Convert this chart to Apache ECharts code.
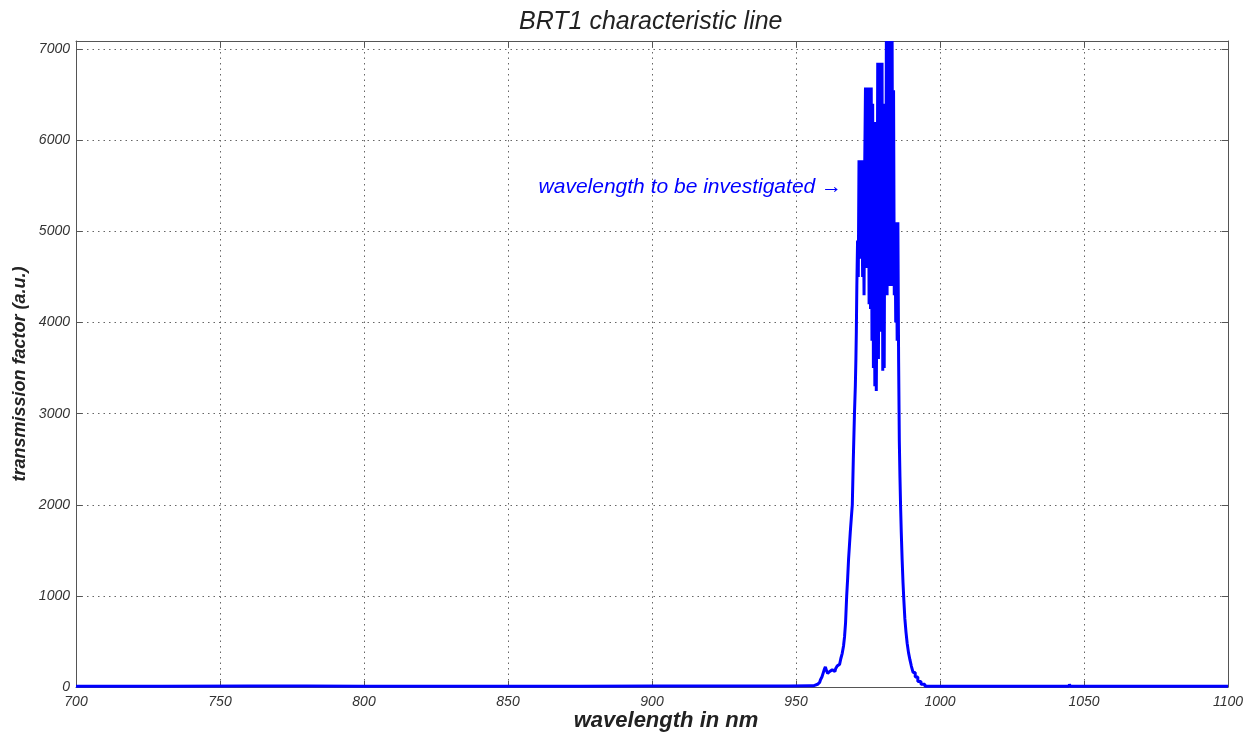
<!DOCTYPE html>
<html>
<head>
<meta charset="utf-8">
<script src="https://cdn.jsdelivr.net/npm/echarts@6/dist/echarts.min.js"></script>
<style>
  html, body { margin: 0; padding: 0; background: #fff; }
  #chart { width: 1252px; height: 733px; }
</style>
</head>
<body>
<div id="chart"></div>
<script>
// wavelength (nm) and transmission factor (a.u.)
const wavelengths = [
  700, 760, 800, 850, 900, 940, 955, 957.5, 958.2, 958.8, 959.2, 959.6, 960.0, 960.4,
  960.8, 961.2, 961.7, 962.3, 962.9, 963.5, 964.0, 964.6, 965.0, 965.3, 965.8, 966.3,
  966.7, 967.0, 967.4, 967.8, 968.1, 968.4, 968.7, 969.0, 969.4, 969.7, 970.1, 970.5,
  970.7, 970.9,
  971.00, 971.25, 971.50, 971.75, 972.00, 972.25, 972.50, 972.75, 973.00, 973.25,
  973.50, 973.75, 974.00, 974.25, 974.50, 974.75, 975.00, 975.25, 975.50, 975.75,
  976.00, 976.25, 976.50, 976.75, 977.00, 977.25, 977.50, 977.75, 978.00, 978.25,
  978.50, 978.75, 979.00, 979.25, 979.50, 979.75, 980.00, 980.25, 980.50, 980.75,
  981.00, 981.25, 981.50, 981.75, 982.00, 982.25, 982.50, 982.75, 983.00, 983.25,
  983.50, 983.75, 984.00, 984.25, 984.50, 984.75, 985.00, 985.25, 985.50, 985.75,
  986.0, 986.2, 986.4, 986.7, 987.0, 987.3, 987.6, 988.0, 988.4, 988.8, 989.3,
  989.8, 990.3, 991.0, 991.8, 992.8, 994.0, 995.5,
  1000, 1040, 1044.8, 1045.1, 1045.4, 1060, 1100
];
const transmission = [
  8, 10, 8, 9, 10, 12, 15, 30, 50, 80, 110, 150, 190, 220,
  180, 150, 170, 190, 180, 170, 200, 230, 250, 260, 310, 370,
  450, 550, 700, 1000, 1200, 1400, 1550, 1700, 1850, 2000, 2500, 3000,
  3300, 3600,
  3900, 4400, 4900, 4500, 5780, 4700, 5780, 5000, 5780, 4500,
  5400, 4300, 5780, 6580, 4600, 6580, 5200, 6580, 4200, 6580,
  4150, 6580, 3800, 6400, 3500, 5500, 3300, 6200, 3250, 4400,
  6850, 3600, 6850, 4200, 6850, 3900, 6850, 3470, 6400, 3500,
  6000, 4600, 7090, 4300, 7090, 5000, 7090, 4400, 7090, 4700,
  7090, 4400, 6550, 4300, 5100, 4000, 5100, 3800, 5100, 3600,
  2700, 2300, 2000, 1700, 1400, 1150, 950, 750, 600, 480, 380,
  300, 230, 160, 110, 60, 30, 8,
  8, 8, 8, 30, 8, 8, 8
];
const xTicks = { min: 700, max: 1100, step: 50 };
const yTicks = { min: 0, max: 7090, step: 1000 };
const noteAt = [966, 5490];
const noteText = 'wavelength to be investigated \u2192';

const points = wavelengths.map((w, i) => [w, transmission[i]]);

const chart = echarts.init(document.getElementById('chart'), null, { renderer: 'canvas' });

const fontFamily = 'Liberation Sans, Arial, sans-serif';
const frameColor = '#555';
const labelFont = {
  fontFamily: fontFamily,
  fontStyle: 'italic',
  fontSize: 14,
  color: '#333',
  formatter: (v) => String(v)
};
const gridDots = { show: true, lineStyle: { color: '#666', type: [1.5, 4], width: 1 } };

function xAxisCfg(pos, main) {
  return {
    type: 'value',
    position: pos,
    min: xTicks.min,
    max: xTicks.max,
    interval: xTicks.step,
    axisLine: { show: true, onZero: false, lineStyle: { color: frameColor, width: 1 } },
    axisTick: { show: true, inside: true, length: 6, lineStyle: { color: frameColor } },
    axisLabel: main ? Object.assign({ margin: 8 }, labelFont) : { show: false },
    splitLine: main ? gridDots : { show: false }
  };
}

function yAxisCfg(pos, main) {
  return {
    type: 'value',
    position: pos,
    min: yTicks.min,
    max: yTicks.max,
    interval: yTicks.step,
    axisLine: { show: true, onZero: false, lineStyle: { color: frameColor, width: 1 } },
    axisTick: { show: true, inside: true, length: 6, lineStyle: { color: frameColor } },
    axisLabel: main ? Object.assign({ margin: 6, showMaxLabel: false }, labelFont) : { show: false },
    splitLine: main ? gridDots : { show: false }
  };
}

const option = {
  animation: false,
  backgroundColor: '#fff',
  title: {
    text: 'BRT1 characteristic line',
    left: 514,
    top: 5,
    textStyle: {
      fontFamily: fontFamily,
      fontStyle: 'italic',
      fontWeight: 'normal',
      fontSize: 25,
      color: '#222'
    }
  },
  grid: { left: 76, right: 24, top: 41, bottom: 46, outerBoundsMode: 'none' },
  xAxis: [xAxisCfg('bottom', true), xAxisCfg('top', false)],
  yAxis: [yAxisCfg('left', true), yAxisCfg('right', false)],
  series: [
    {
      type: 'line',
      data: points,
      step: 'middle',
      showSymbol: false,
      lineStyle: { color: '#0000ff', width: 3 },
      itemStyle: { color: '#0000ff' }
    }
  ]
};

chart.setOption(option);

const anchor = chart.convertToPixel({ xAxisIndex: 0, yAxisIndex: 0 }, noteAt);
chart.setOption({
  graphic: [
    {
      type: 'text',
      x: anchor[0],
      y: anchor[1],
      style: {
        text: noteText,
        align: 'right',
        verticalAlign: 'middle',
        fontFamily: fontFamily,
        fontStyle: 'italic',
        fontSize: 21,
        fill: '#0000ff'
      }
    },
    {
      type: 'text',
      x: 20,
      y: 374,
      rotation: Math.PI / 2,
      style: {
        text: 'transmission factor (a.u.)',
        align: 'center',
        verticalAlign: 'middle',
        fontFamily: fontFamily,
        fontStyle: 'italic',
        fontWeight: 'bold',
        fontSize: 18,
        fill: '#222'
      }
    },
    {
      type: 'text',
      x: 666,
      y: 721,
      style: {
        text: 'wavelength in nm',
        align: 'center',
        verticalAlign: 'middle',
        fontFamily: fontFamily,
        fontStyle: 'italic',
        fontWeight: 'bold',
        fontSize: 22,
        fill: '#222'
      }
    }
  ]
});
</script>
</body>
</html>
